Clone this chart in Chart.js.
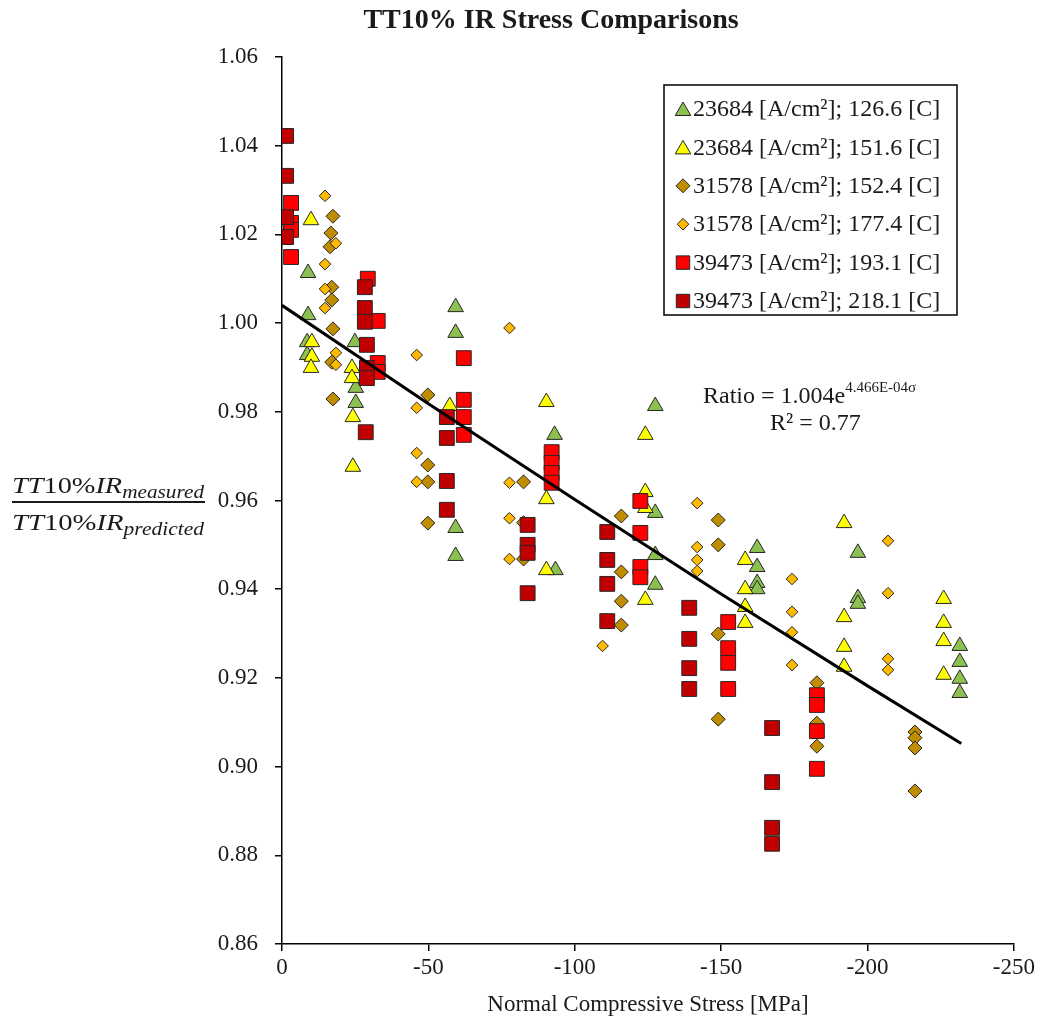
<!DOCTYPE html>
<html lang="en">
<head>
<meta charset="UTF-8" />
<title>TT10% IR Stress Comparisons</title>
<script src="https://cdn.jsdelivr.net/npm/chart.js@4.4.1/dist/chart.umd.min.js"></script>
<style>
  html, body { margin: 0; padding: 0; background: #fff; }
  canvas { display: block; }
</style>
</head>
<body>
<canvas id="chart" width="1038" height="1025"></canvas>
<script>
// tick labels
const xTickValues = [0, -50, -100, -150, -200, -250];
const yTickValues = [0.86, 0.88, 0.90, 0.92, 0.94, 0.96, 0.98, 1.00, 1.02, 1.04, 1.06];

// series labels
const seriesLabels = [
  '23684 [A/cm²]; 126.6 [C]',
  '23684 [A/cm²]; 151.6 [C]',
  '31578 [A/cm²]; 152.4 [C]',
  '31578 [A/cm²]; 177.4 [C]',
  '39473 [A/cm²]; 193.1 [C]',
  '39473 [A/cm²]; 218.1 [C]'
];

// 23684 A/cm2, 126.6 C  (green triangles)
const s1Stress = [-8.9, -8.9, -8.6, -8.6, -24.9, -25.2, -25.2, -59.3, -59.3, -59.3, -59.3, -93.1, -93.4,
  -127.5, -127.5, -127.5, -127.5, -162.3, -162.3, -162.3, -162.3, -196.7, -196.7, -196.7, -231.5, -231.5, -231.5, -231.5];
const s1Ratio = [1.0113, 1.0018, 0.9957, 0.9928, 0.9957, 0.9854, 0.9820, 1.0036, 0.9978, 0.9538, 0.9475, 0.9748, 0.9443,
  0.9813, 0.9572, 0.9477, 0.9410, 0.9493, 0.9450, 0.9414, 0.9400, 0.9482, 0.9380, 0.9367, 0.9272, 0.9236, 0.9198, 0.9166];

// 23684 A/cm2, 151.6 C  (yellow triangles)
const s2Stress = [-9.9, -10.2, -10.2, -9.9, -23.9, -23.9, -24.2, -24.2, -57.3, -90.3, -90.3, -90.3,
  -124.1, -124.1, -124.1, -124.1, -158.2, -158.2, -158.2, -158.2, -192, -192, -192, -192, -226, -226, -226, -226];
const s2Ratio = [1.0232, 0.9957, 0.9924, 0.9899, 0.9899, 0.9876, 0.9788, 0.9676, 0.9813, 0.9822, 0.9603, 0.9443,
  0.9748, 0.9619, 0.9583, 0.9376, 0.9466, 0.9400, 0.9360, 0.9324, 0.9549, 0.9337, 0.9270, 0.9225, 0.9378, 0.9324, 0.9283, 0.9207];

// 31578 A/cm2, 152.4 C  (dark gold diamonds)
const s3Stress = [-17.4, -16.7, -16.4, -17, -17, -17.4, -17, -17.4, -49.8, -49.8, -49.8, -49.8, -82.5, -82.5, -82.5,
  -115.9, -115.9, -115.9, -115.9, -149, -149, -149, -149, -182.7, -182.7, -182.7, -216.2, -216.2, -216.2, -216.2];
const s3Ratio = [1.0241, 1.0203, 1.0172, 1.0081, 1.0052, 0.9987, 0.9912, 0.9829, 0.9838, 0.9680, 0.9642, 0.9549, 0.9642, 0.9550, 0.9468,
  0.9565, 0.9439, 0.9373, 0.9319, 0.9556, 0.9500, 0.9299, 0.9107, 0.9189, 0.9098, 0.9046, 0.9078, 0.9065, 0.9042, 0.8945];

// 31578 A/cm2, 177.4 C  (orange diamonds)
const s4Stress = [-14.7, -14.7, -14.7, -14.7, -18.4, -18.4, -18.4, -46, -46, -46, -46, -77.7, -77.7, -77.7, -77.7, -109.5,
  -141.8, -141.8, -141.8, -141.8, -174.2, -174.2, -174.2, -174.2, -207, -207, -207, -207];
const s4Ratio = [1.0287, 1.0133, 1.0077, 1.0034, 1.0180, 0.9933, 0.9906, 0.9928, 0.9809, 0.9707, 0.9642, 0.9989, 0.9640, 0.9560, 0.9468, 0.9272,
  0.9594, 0.9495, 0.9466, 0.9441, 0.9423, 0.9349, 0.9303, 0.9229, 0.9509, 0.9391, 0.9243, 0.9218];

// 39473 A/cm2, 193.1 C  (red squares)
const s5Stress = [-3.1, -3.1, -3.1, -3.1, -29.3, -32.7, -32.7, -32.7, -62.1, -62.1, -62.1, -62.1, -92.1, -92.1, -92.1, -92.1,
  -122.4, -122.4, -122.4, -122.4, -152.4, -152.4, -152.4, -152.4, -182.7, -182.7, -182.7, -182.7];
const s5Ratio = [1.0271, 1.0226, 1.0210, 1.0149, 1.0100, 1.0005, 0.9910, 0.9890, 0.9921, 0.9827, 0.9788, 0.9748, 0.9709, 0.9685, 0.9662, 0.9640,
  0.9599, 0.9527, 0.9450, 0.9427, 0.9326, 0.9267, 0.9234, 0.9175, 0.9161, 0.9139, 0.9080, 0.8995];

// 39473 A/cm2, 218.1 C  (dark red squares)
const s6Stress = [-1.4, -1.4, -1.4, -1.4, -28.3, -28.3, -28.3, -29, -29, -29, -28.6, -56.3, -56.3, -56.3, -56.3,
  -83.9, -83.9, -83.9, -83.9, -111.1, -111.1, -111.1, -111.1, -139.1, -139.1, -139.1, -139.1, -167.4, -167.4, -167.4, -167.4];
const s6Ratio = [1.0422, 1.0332, 1.0239, 1.0194, 1.0081, 1.0034, 1.0003, 0.9951, 0.9899, 0.9876, 0.9754, 0.9788, 0.9741, 0.9644, 0.9579,
  0.9545, 0.9500, 0.9482, 0.9391, 0.9529, 0.9466, 0.9412, 0.9328, 0.9358, 0.9288, 0.9222, 0.9175, 0.9087, 0.8965, 0.8862, 0.8826];

// exponential trend line (Ratio = 1.004 e^(4.466E-04 σ)), values at a few stresses
const trendStress = [0, -50, -100, -150, -200, -232];
const trendRatio = [1.004, 0.9818, 0.9602, 0.9389, 0.9182, 0.9052];

const FONT = '"Liberation Serif", "Times New Roman", serif';
const TEXT = '#1a1a1a';

function pts(xs, ys) {
  return xs.map((x, i) => ({ x: x, y: ys[i] }));
}

const seriesStyle = [
  { color: '#8cc152', shape: 'triangle', r: 9 },
  { color: '#ffff00', shape: 'triangle', r: 9 },
  { color: '#c08c00', shape: 'rectRot', r: 7 },
  { color: '#ffba00', shape: 'rectRot', r: 5.8 },
  { color: '#ff0000', shape: 'rect', r: 10.5 },
  { color: '#c00000', shape: 'rect', r: 10.5 }
];
const seriesData = [
  pts(s1Stress, s1Ratio), pts(s2Stress, s2Ratio), pts(s3Stress, s3Ratio),
  pts(s4Stress, s4Ratio), pts(s5Stress, s5Ratio), pts(s6Stress, s6Ratio)
];

const datasets = seriesData.map((d, i) => ({
  label: seriesLabels[i],
  data: d,
  pointStyle: seriesStyle[i].shape,
  pointRadius: seriesStyle[i].r,
  backgroundColor: seriesStyle[i].color,
  borderColor: '#262626',
  borderWidth: 1,
  showLine: false,
  order: 6 - i   // later series drawn on top, like the original
}));
datasets.push({
  label: 'trend',
  data: pts(trendStress, trendRatio),
  showLine: true,
  borderColor: '#000',
  borderWidth: 3,
  pointRadius: 0,
  fill: false,
  order: 0
});

// texts, legend box, y axis fraction
const decorPlugin = {
  id: 'decor',
  afterDraw(chart) {
    const ctx = chart.ctx;
    ctx.save();
    ctx.fillStyle = TEXT;

    // title
    ctx.font = 'bold 28px ' + FONT;
    ctx.textAlign = 'center';
    ctx.textBaseline = 'alphabetic';
    ctx.fillText('TT10% IR Stress Comparisons', 551, 28);

    // x axis title
    ctx.font = '23px ' + FONT;
    ctx.fillText('Normal Compressive Stress [MPa]', 648, 1011);

    // fit annotation
    ctx.textAlign = 'left';
    ctx.font = '24px ' + FONT;
    ctx.fillText('Ratio = 1.004e', 703, 403);
    const w = ctx.measureText('Ratio = 1.004e').width;
    ctx.font = '15px ' + FONT;
    ctx.fillText('4.466E-04σ', 703 + w, 392);
    ctx.font = '24px ' + FONT;
    ctx.fillText('R² = 0.77', 770, 430);

    // y axis label as a fraction
    drawFraction(ctx);

    // legend
    ctx.strokeStyle = '#000';
    ctx.lineWidth = 1.5;
    ctx.fillStyle = '#fff';
    ctx.fillRect(664, 85, 293, 230);
    ctx.strokeRect(664, 85, 293, 230);
    ctx.font = '24px ' + FONT;
    ctx.textBaseline = 'middle';
    seriesLabels.forEach((lab, i) => {
      const y = 109 + i * 38.4;
      const st = seriesStyle[i];
      ctx.fillStyle = st.color;
      ctx.strokeStyle = '#262626';
      ctx.lineWidth = 1;
      Chart.helpers.drawPoint(ctx, { pointStyle: st.shape, radius: st.shape === 'rect' ? 9.5 : st.r, borderWidth: 1, rotation: 0 }, 683, y + (st.shape === 'triangle' ? 2 : 0));
      ctx.fillStyle = TEXT;
      ctx.fillText(lab, 693, y + 1);
    });
    ctx.restore();
  }
};

function drawFraction(ctx) {
  const left = 12, right = 204;
  const big = 24, small = 18;
  function part(sub, baseline) {
    const segs = [
      { t: 'TT', f: 'italic ' + big + 'px ' + FONT, dy: 0 },
      { t: '10%', f: big + 'px ' + FONT, dy: 0 },
      { t: 'IR', f: 'italic ' + big + 'px ' + FONT, dy: 0 },
      { t: sub, f: 'italic ' + small + 'px ' + FONT, dy: 5 }
    ];
    let total = 0;
    segs.forEach(s => { ctx.font = s.f; s.w = ctx.measureText(s.t).width; total += s.w; });
    ctx.save();
    ctx.translate(left, baseline);
    ctx.scale((right - left) / total, 1);
    let x = 0;
    segs.forEach(s => { ctx.font = s.f; ctx.fillText(s.t, x, s.dy); x += s.w; });
    ctx.restore();
  }
  ctx.textAlign = 'left';
  ctx.textBaseline = 'alphabetic';
  part('measured', 493);
  ctx.fillRect(left, 501, right - left + 1, 2);
  part('predicted', 530);
}

new Chart(document.getElementById('chart'), {
  type: 'scatter',
  data: { datasets: datasets },
  options: {
    responsive: false,
    animation: false,
    layout: { padding: { top: 57, right: 23, left: 0, bottom: 0 } },
    plugins: {
      legend: { display: false },
      title: { display: false },
      tooltip: { enabled: false }
    },
    scales: {
      x: {
        type: 'linear',
        reverse: true,
        min: -250,
        max: 0,
        afterFit: s => { s.height = 81; },
        afterBuildTicks: s => { s.ticks = xTickValues.map(v => ({ value: v })); },
        ticks: {
          font: { family: FONT, size: 23 },
          color: TEXT,
          padding: 3,
          maxRotation: 0,
          callback: v => String(v)
        },
        grid: { drawOnChartArea: false, drawTicks: true, tickLength: 7, color: '#000', lineWidth: 1.5 },
        border: { color: '#000', width: 1.5 }
      },
      y: {
        type: 'linear',
        min: 0.86,
        max: 1.06,
        afterFit: s => { s.width = 282; },
        afterBuildTicks: s => { s.ticks = yTickValues.map(v => ({ value: v })); },
        ticks: {
          font: { family: FONT, size: 23 },
          color: TEXT,
          padding: 17,
          callback: v => Number(v).toFixed(2)
        },
        grid: { drawOnChartArea: false, drawTicks: true, tickLength: 7, color: '#000', lineWidth: 1.5 },
        border: { color: '#000', width: 1.5 }
      }
    }
  },
  plugins: [decorPlugin]
});
</script>
</body>
</html>
